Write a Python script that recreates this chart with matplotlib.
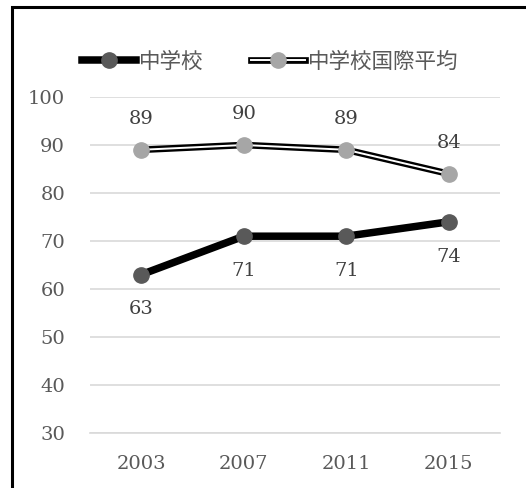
import matplotlib.pyplot as plt
from matplotlib.lines import Line2D
from matplotlib.legend_handler import HandlerTuple
from matplotlib.patches import Rectangle

years = ['2003', '2007', '2011', '2015']
school = [63, 71, 71, 74]
intl_avg = [89, 90, 89, 84]
names = ['中学校', '中学校国際平均']

serif = ['DejaVu Serif']
cjk = ['Noto Sans CJK JP', 'DejaVu Sans']

fig = plt.figure(figsize=(5.26, 4.88), dpi=100)
ax = fig.add_axes([90 / 526, 55 / 488, 410 / 526, 336 / 488])

x = range(len(years))

# school: thick black line, dark grey markers
ax.plot(x, school, color='black', lw=5.4, zorder=3)
ax.plot(x, school, ls='none', marker='o', ms=11, mfc='#595959', mec='#595959', zorder=4)

# international average: double line (black outline, white core)
ax.plot(x, intl_avg, color='black', lw=4.8, zorder=3)
ax.plot(x, intl_avg, color='white', lw=1.4, zorder=3.5)
ax.plot(x, intl_avg, ls='none', marker='o', ms=11, mfc='#A6A6A6', mec='#A6A6A6', zorder=4)

for i, v in enumerate(school):
    ax.annotate(str(v), (i, v), xytext=(0, -25), textcoords='offset points',
                ha='center', va='center', fontsize=14, family=serif, color='#404040')
for i, v in enumerate(intl_avg):
    ax.annotate(str(v), (i, v), xytext=(0, 22), textcoords='offset points',
                ha='center', va='center', fontsize=14, family=serif, color='#404040')

ax.set_xlim(-0.5, len(years) - 0.5)
ax.set_ylim(30, 100)
ax.set_yticks(range(30, 101, 10))
ax.set_xticks(list(x))
ax.set_xticklabels(years)
ax.grid(axis='y', color='#D9D9D9', lw=1.2)
ax.set_axisbelow(True)
for s in ['top', 'right', 'left']:
    ax.spines[s].set_visible(False)
ax.spines['bottom'].set_color('#D9D9D9')
ax.spines['bottom'].set_linewidth(1.2)
ax.tick_params(length=0, labelcolor='#595959', labelsize=14, pad=16)
ax.tick_params(axis='y', pad=18)
for lab in ax.get_xticklabels() + ax.get_yticklabels():
    lab.set_family(serif)

h1 = (Line2D([], [], color='black', lw=5.4),
      Line2D([], [], ls='none', marker='o', ms=11, mfc='#595959', mec='#595959'))
h2 = (Line2D([], [], color='black', lw=4.8),
      Line2D([], [], color='white', lw=1.4),
      Line2D([], [], ls='none', marker='o', ms=11, mfc='#A6A6A6', mec='#A6A6A6'))
leg = fig.legend([h1, h2], names, handler_map={tuple: HandlerTuple(ndivide=1)},
                 loc='center left', bbox_to_anchor=(63 / 526, 1 - 62 / 488), ncol=2,
                 frameon=False, handlelength=2.5, handletextpad=0.15, columnspacing=2.2,
                 prop={'family': cjk, 'size': 15.5})
for t in leg.get_texts():
    t.set_color('#595959')

# outer frame (left and top edges visible)
fig.patches.append(Rectangle((12 / 526, -0.1), 1.2, 1 - 7 / 488 + 0.1, transform=fig.transFigure,
                             fill=False, ec='black', lw=2.2))

fig.savefig('out.png', dpi=100)
